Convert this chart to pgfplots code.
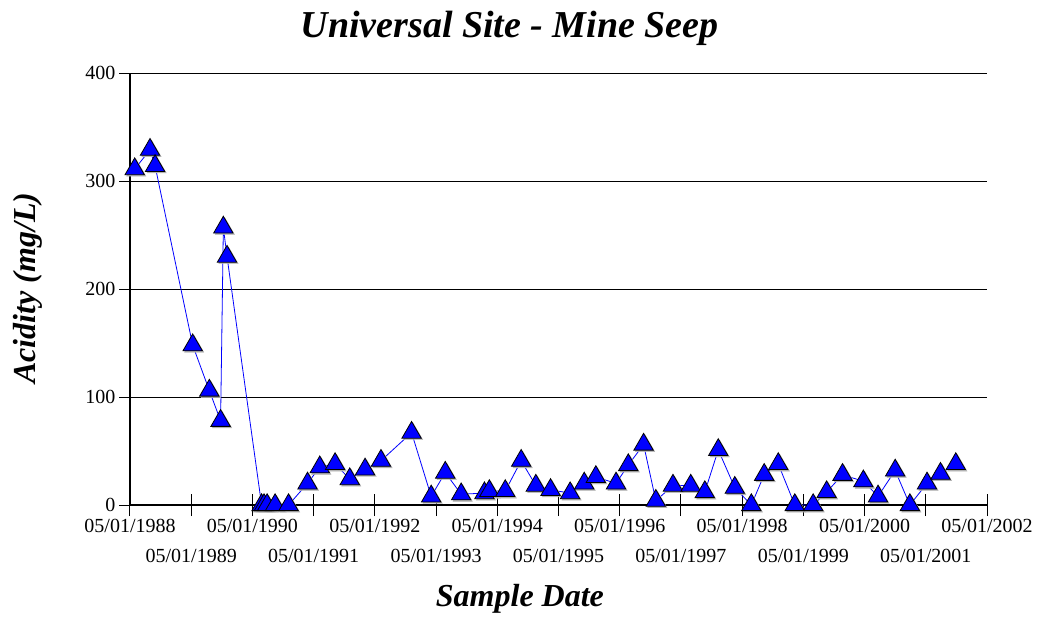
\documentclass[border=0pt]{standalone}
\usepackage{fontspec}
\setmainfont{Liberation Serif}
\usepackage{pgfplots}
\pgfplotsset{compat=1.18}
\begin{document}
\begin{tikzpicture}
\useasboundingbox (-130pt,-114pt) rectangle (907pt,505pt);
\begin{axis}[
  at={(0pt,0pt)}, anchor=south west,
  scale only axis, width=857pt, height=432pt,
  xmin=0, xmax=14, ymin=0, ymax=400,
  axis lines*=left,
  clip=false,
  ytick={0,100,200,300,400},
  ymajorgrids, grid style={black, line width=0.8pt},
  xtick={0,2,...,14},
  xticklabels={05/01/1988,05/01/1990,05/01/1992,05/01/1994,05/01/1996,05/01/1998,05/01/2000,05/01/2002},
  extra x ticks={1,3,...,13},
  extra x tick labels={05/01/1989,05/01/1991,05/01/1993,05/01/1995,05/01/1997,05/01/1999,05/01/2001},
  extra x tick style={grid=none, xticklabel style={yshift=-30pt}},
  tick align=center,
  major tick length=22pt,
  tick style={black, line width=1pt},
  axis line style={black, line width=1.2pt},
  ticklabel style={font=\fontsize{20}{23}\selectfont},
  /pgf/number format/assume math mode=true,
  title={\fontsize{38}{42}\selectfont\bfseries\itshape Universal Site - Mine Seep},
  title style={at={(axis description cs:0.443,1.09)}, anchor=center},
  xlabel={\fontsize{32}{36}\selectfont\bfseries\itshape Sample Date},
  xlabel style={at={(axis description cs:0.455,-0.218)}, anchor=center},
  ylabel={\fontsize{32}{36}\selectfont\bfseries\itshape Acidity (mg/L)},
  ylabel style={at={(axis description cs:-0.119,0.502)}, anchor=center, rotate=0},
]
\addplot[draw=none, mark=triangle*, mark size=11.2pt,
  mark options={fill=gray!60, draw=gray!60, xshift=1.5pt, yshift=-1.5pt}]
  table {
x y
0.077 311
0.327 329
0.41 314
1.024 148
1.296 106
1.48 78
1.525 257
1.585 230
2.15 0
2.19 0
2.24 0
2.37 0
2.59 0
2.90 20
3.10 35
3.35 38
3.59 24
3.84 33
4.10 41
4.60 67
4.92 8
5.15 30
5.41 10
5.79 11
5.87 13
6.13 13
6.39 41
6.63 18
6.87 14
7.19 11
7.42 20
7.61 26
7.94 20
8.14 37
8.39 56
8.59 4
8.87 18
9.16 18
9.39 12
9.61 51
9.88 16
10.15 0
10.36 28
10.59 38
10.86 0
11.16 0
11.38 12
11.64 28
11.98 22
12.22 8
12.50 32
12.74 0
13.02 20
13.24 29
13.49 38
};
\addplot[blue, line width=0.8pt, mark=triangle*, mark size=11.2pt,
  mark options={fill=blue, draw=black, line width=0.8pt}]
  table {
x y
0.077 311
0.327 329
0.41 314
1.024 148
1.296 106
1.48 78
1.525 257
1.585 230
2.15 0
2.19 0
2.24 0
2.37 0
2.59 0
2.90 20
3.10 35
3.35 38
3.59 24
3.84 33
4.10 41
4.60 67
4.92 8
5.15 30
5.41 10
5.79 11
5.87 13
6.13 13
6.39 41
6.63 18
6.87 14
7.19 11
7.42 20
7.61 26
7.94 20
8.14 37
8.39 56
8.59 4
8.87 18
9.16 18
9.39 12
9.61 51
9.88 16
10.15 0
10.36 28
10.59 38
10.86 0
11.16 0
11.38 12
11.64 28
11.98 22
12.22 8
12.50 32
12.74 0
13.02 20
13.24 29
13.49 38
};
\end{axis}
\end{tikzpicture}
\end{document}
